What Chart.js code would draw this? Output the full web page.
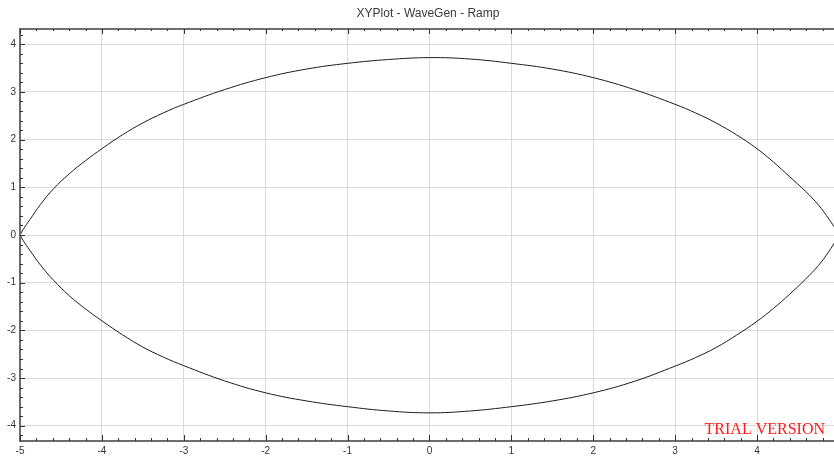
<!DOCTYPE html>
<html>
<head>
<meta charset="utf-8">
<script src="https://cdn.jsdelivr.net/npm/chart.js@4.4.1/dist/chart.umd.min.js"></script>
<style>
  html, body { margin: 0; padding: 0; background: #fff; }
  #wrap { width: 834px; height: 457px; }
</style>
</head>
<body>
<div id="wrap"><canvas id="plot" width="834" height="457"></canvas></div>
<script>
// values
const titleText = 'XYPlot - WaveGen - Ramp';
const xValues = [-5, -4.96, -4.88, -4.75, -4.59, -4.4, -4.2, -4, -3.75, -3.5, -3.25, -3, -2.5, -2, -1.5, -1, -0.5,
  0, 0.5, 1, 1.5, 2, 2.5, 3, 3.25, 3.5, 3.75, 4, 4.2, 4.4, 4.59, 4.75, 4.88, 4.96, 5];
const upperValues = [0, 0.12, 0.32, 0.64, 0.97, 1.28, 1.56, 1.81, 2.1, 2.35, 2.56, 2.74, 3.05, 3.3, 3.48, 3.6, 3.68,
  3.72, 3.69, 3.6, 3.48, 3.3, 3.05, 2.74, 2.56, 2.35, 2.1, 1.81, 1.53, 1.22, 0.92, 0.63, 0.33, 0.12, 0];
const lowerValues = [0, -0.12, -0.32, -0.63, -0.95, -1.27, -1.55, -1.8, -2.09, -2.35, -2.56, -2.74, -3.06, -3.31, -3.48, -3.6, -3.69,
  -3.73, -3.69, -3.6, -3.48, -3.31, -3.07, -2.75, -2.57, -2.36, -2.1, -1.81, -1.54, -1.24, -0.93, -0.64, -0.34, -0.12, 0];
const xRange = [-5, 4.94];
const yRange = [-4.32, 4.32];

const FONT = '"Liberation Sans", Arial, sans-serif';
const isWhole = v => Math.abs(v - Math.round(v)) < 1e-6;

// axis frame with inward ticks, title and watermark
const framePlugin = {
  id: 'frame',
  afterDraw(chart) {
    const { ctx, chartArea: a, scales } = chart;
    ctx.save();
    ctx.strokeStyle = '#6e6e6e';
    ctx.lineWidth = 2;
    ctx.beginPath();
    ctx.moveTo(a.left, a.top); ctx.lineTo(a.right, a.top);
    ctx.moveTo(a.left, a.top - 1); ctx.lineTo(a.left, a.bottom + 1);
    ctx.moveTo(a.left, a.bottom); ctx.lineTo(a.right, a.bottom);
    ctx.stroke();

    ctx.lineWidth = 1;
    ctx.strokeStyle = '#333';
    ctx.beginPath();
    scales.x.ticks.forEach(t => {
      const px = Math.round(scales.x.getPixelForValue(t.value)) + 0.5;
      const len = isWhole(t.value) ? 6 : 3;
      ctx.moveTo(px, a.bottom); ctx.lineTo(px, a.bottom - len);
      ctx.moveTo(px, a.top); ctx.lineTo(px, a.top + len - 1);
    });
    scales.y.ticks.forEach(t => {
      const py = Math.round(scales.y.getPixelForValue(t.value)) + 0.5;
      const len = isWhole(t.value) ? 5 : 3;
      ctx.moveTo(a.left, py); ctx.lineTo(a.left + len, py);
    });
    ctx.stroke();

    ctx.fillStyle = '#3a3a3a';
    ctx.font = '12px ' + FONT;
    ctx.textAlign = 'center';
    ctx.textBaseline = 'middle';
    ctx.fillText(titleText, (a.left + a.right) / 2 + 1, 14);

    ctx.fillStyle = '#ff1a1a';
    ctx.font = '16px "Liberation Serif", "Times New Roman", serif';
    ctx.textAlign = 'right';
    ctx.textBaseline = 'alphabetic';
    ctx.fillText('TRIAL VERSION', a.right - 9, a.bottom - 7);
    ctx.restore();
  }
};

function axis(range, fit) {
  return {
    type: 'linear',
    min: range[0],
    max: range[1],
    afterFit: fit,
    border: { display: false },
    grid: {
      color: c => (c.tick && isWhole(c.tick.value)) ? '#dadada' : 'rgba(0,0,0,0)',
      lineWidth: 1,
      drawTicks: false,
    },
    ticks: {
      stepSize: 0.2,
      includeBounds: false,
      autoSkip: false,
      maxTicksLimit: 1000,
      maxRotation: 0,
      padding: 4,
      color: '#333',
      font: { size: 10, family: FONT },
      callback: v => isWhole(v) ? String(Math.round(v)) : '',
    },
  };
}

const lineStyle = {
  showLine: true,
  borderColor: '#1c1c1c',
  borderWidth: 1,
  pointRadius: 0,
  tension: 0.4,
};

new Chart(document.getElementById('plot'), {
  type: 'scatter',
  data: {
    datasets: [
      { ...lineStyle, label: 'upper', data: xValues.map((x, i) => ({ x, y: upperValues[i] })) },
      { ...lineStyle, label: 'lower', data: xValues.map((x, i) => ({ x, y: lowerValues[i] })) },
    ],
  },
  options: {
    responsive: false,
    animation: false,
    layout: { padding: { top: 29, right: 0, bottom: 0, left: 0 } },
    plugins: { legend: { display: false }, tooltip: { enabled: false }, title: { display: false } },
    scales: {
      x: axis(xRange, s => { s.height = 16; s.paddingLeft = 0; s.paddingRight = 0; }),
      y: axis(yRange, s => { s.width = 20; s.paddingTop = 0; s.paddingBottom = 0; }),
    },
  },
  plugins: [framePlugin],
});
</script>
</body>
</html>
